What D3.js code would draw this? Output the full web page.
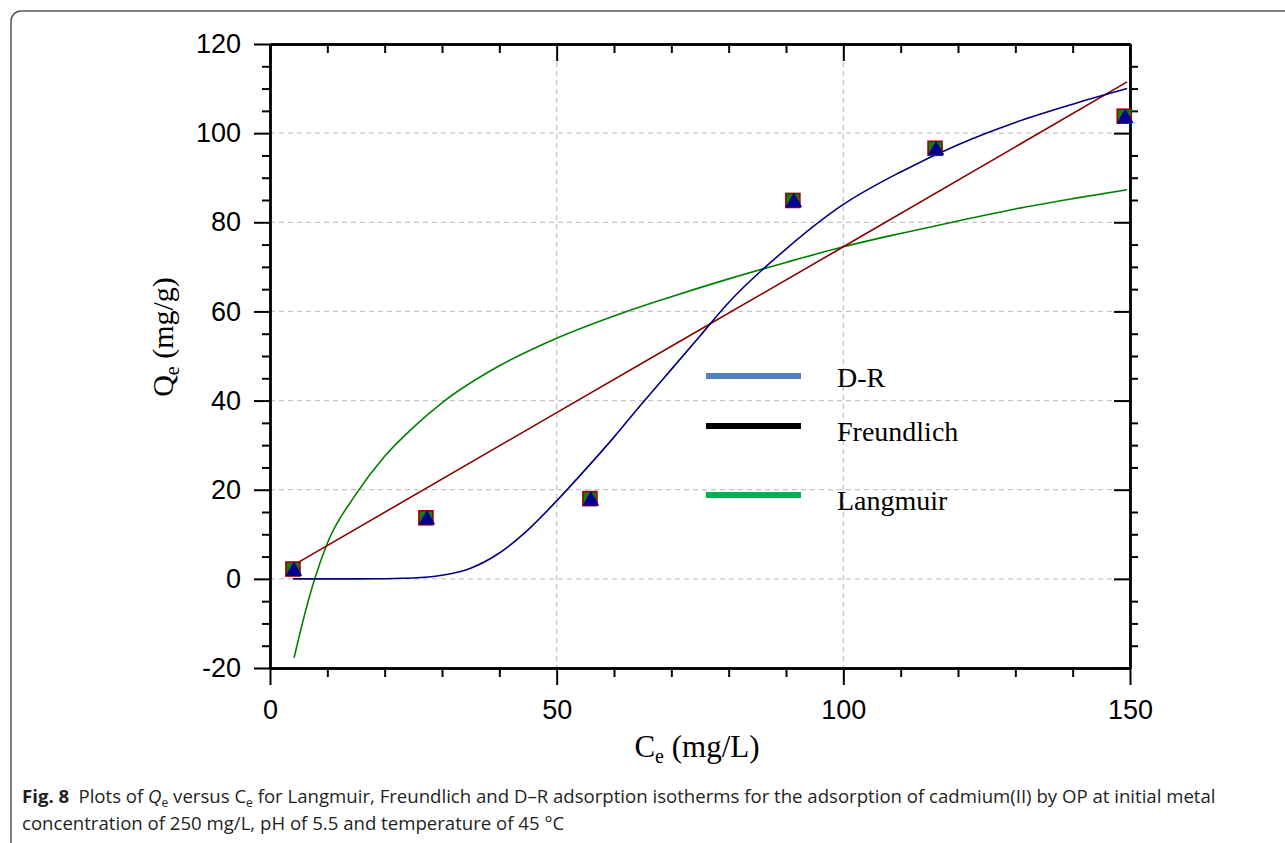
<!DOCTYPE html>
<html>
<head>
<meta charset="utf-8">
<script src="https://cdn.jsdelivr.net/npm/d3@7"></script>
<style>
  body { margin: 0; background: #fff; }
  svg { display: block; }
  .tick text { font-family: "Liberation Sans", Arial, sans-serif; font-size: 27px; fill: #000; }
</style>
</head>
<body>
<script>
// measured points (Ce, Qe)
var ceData = [4.0, 27.2, 55.8, 91.2, 116.0, 149.0];
var qeData = [2.2, 13.7, 18.0, 84.9, 96.6, 103.8];

// fitted curves
var drCe = [4, 15, 25, 30, 35, 40, 45, 50, 55, 60, 65, 70, 75, 80, 90, 100, 110, 120, 130, 140, 149.5];
var drQe = [0, 0, 0.2, 0.8, 2.4, 5.8, 11, 17.5, 24.5, 31.8, 39.5, 47, 54.5, 62, 74, 84, 91.3, 97.4, 102.4, 106.5, 110];

var frCe = [4, 50, 100, 149.5];
var frQe = [3.0, 37.3, 74.5, 111.5];

var lgCe = [4.2, 5.8, 7.8, 10, 15, 20, 25, 30, 40, 50, 60, 70, 80, 90, 100, 110, 120, 130, 140, 149.5];
var lgQe = [-17.7, -9.2, 0, 8, 19, 27.5, 34, 39.5, 47.8, 54, 59, 63.3, 67.3, 71, 74.5, 77.5, 80.3, 83, 85.3, 87.3];

var legendNames = ["D-R", "Freundlich", "Langmuir"];
var legendColors = ["#4f81bd", "#000000", "#00b050"];

var xMajor = [0, 50, 100, 150];
var xMinor = d3.range(10, 150, 10).filter(d => d % 50 !== 0);
var yMajor = [-20, 0, 20, 40, 60, 80, 100, 120];
var yMinor = d3.range(-15, 120, 5).filter(d => d % 20 !== 0);

var svgWidth = 1285;
var svgHeight = 843;

var plot = { left: 270, top: 44, right: 1130, bottom: 668 };

var svg = d3.select("body")
  .append("svg")
  .attr("width", svgWidth)
  .attr("height", svgHeight);

// figure frame
svg.append("rect")
  .attr("x", 11).attr("y", 11)
  .attr("width", 1320).attr("height", 842)
  .attr("rx", 10)
  .attr("fill", "none")
  .attr("stroke", "#555")
  .attr("stroke-width", 1.5);

var x = d3.scaleLinear().domain([0, 150]).range([plot.left, plot.right]);
var y = d3.scaleLinear().domain([-20, 120]).range([plot.bottom, plot.top]);

svg.append("clipPath").attr("id", "clip")
  .append("rect")
  .attr("x", plot.left).attr("y", plot.top)
  .attr("width", plot.right - plot.left)
  .attr("height", plot.bottom - plot.top);

// grid
var grid = svg.append("g")
  .attr("stroke", "#c4c4c4")
  .attr("stroke-width", 1.3)
  .attr("stroke-dasharray", "5,4");
grid.selectAll(".h")
  .data([0, 20, 40, 60, 80, 100])
  .enter().append("line")
  .attr("x1", plot.left).attr("x2", plot.right)
  .attr("y1", d => y(d)).attr("y2", d => y(d));
grid.selectAll(".v")
  .data([50, 100])
  .enter().append("line")
  .attr("y1", plot.top).attr("y2", plot.bottom)
  .attr("x1", d => x(d)).attr("x2", d => x(d));

// curves
var lineGen = d3.line()
  .x(d => x(d[0]))
  .y(d => y(d[1]))
  .curve(d3.curveMonotoneX);

var curves = svg.append("g").attr("clip-path", "url(#clip)").attr("fill", "none");
curves.append("path")
  .attr("d", lineGen(d3.zip(lgCe, lgQe)))
  .attr("stroke", "#008000").attr("stroke-width", 1.6);
curves.append("path")
  .attr("d", lineGen(d3.zip(frCe, frQe)))
  .attr("stroke", "#8b0000").attr("stroke-width", 1.6);
curves.append("path")
  .attr("d", lineGen(d3.zip(drCe, drQe)))
  .attr("stroke", "#000080").attr("stroke-width", 1.6);

// axes
function styleAxis(g) {
  g.select(".domain").attr("stroke", "#000").attr("stroke-width", 2.4);
  g.selectAll(".tick line").attr("stroke", "#000").attr("stroke-width", 2);
}

var fmt = d => String(d);

svg.append("g")
  .attr("transform", `translate(${plot.left},0)`)
  .call(d3.axisLeft(y).tickValues(yMinor).tickSize(8).tickSizeOuter(0).tickFormat(""))
  .call(styleAxis);
svg.append("g")
  .attr("transform", `translate(${plot.left},0)`)
  .call(d3.axisLeft(y).tickValues(yMajor).tickSize(16).tickSizeOuter(0).tickPadding(13).tickFormat(fmt))
  .call(styleAxis);

svg.append("g")
  .attr("transform", `translate(${plot.right},0)`)
  .call(d3.axisLeft(y).tickValues(yMinor).tickSize(-8).tickSizeOuter(0).tickFormat(""))
  .call(styleAxis);
svg.append("g")
  .attr("transform", `translate(${plot.right},0)`)
  .call(d3.axisRight(y).tickValues(yMajor).tickSize(-16).tickSizeOuter(0).tickFormat(""))
  .call(styleAxis);

svg.append("g")
  .attr("transform", `translate(0,${plot.bottom})`)
  .call(d3.axisBottom(x).tickValues(xMinor).tickSize(9).tickSizeOuter(0).tickFormat(""))
  .call(styleAxis);
svg.append("g")
  .attr("transform", `translate(0,${plot.bottom})`)
  .call(d3.axisBottom(x).tickValues(xMajor).tickSize(17).tickSizeOuter(0).tickPadding(15).tickFormat(fmt))
  .call(styleAxis);

svg.append("g")
  .attr("transform", `translate(0,${plot.top})`)
  .call(d3.axisTop(x).tickValues(xMinor).tickSize(-9).tickSizeOuter(0).tickFormat(""))
  .call(styleAxis);
svg.append("g")
  .attr("transform", `translate(0,${plot.top})`)
  .call(d3.axisTop(x).tickValues(xMajor).tickSize(-17).tickSizeOuter(0).tickFormat(""))
  .call(styleAxis);

// data markers
var pts = d3.zip(ceData, qeData);
var markers = svg.append("g");
markers.selectAll("rect")
  .data(pts)
  .enter().append("rect")
  .attr("x", d => x(d[0]) - 7)
  .attr("y", d => y(d[1]) - 7)
  .attr("width", 14).attr("height", 14)
  .attr("fill", "#108010")
  .attr("stroke", "#a00000")
  .attr("stroke-width", 1.6);
markers.selectAll("path")
  .data(pts)
  .enter().append("path")
  .attr("transform", d => `translate(${x(d[0]) + 1},${y(d[1]) + 2})`)
  .attr("d", d3.symbol(d3.symbolTriangle, 120))
  .attr("fill", "#000090");

// legend
var legend = svg.append("g");
var legendY = [376, 426, 495];
var legendTextY = [387, 441, 510];
legendNames.forEach(function(name, i) {
  legend.append("line")
    .attr("x1", 706).attr("x2", 801)
    .attr("y1", legendY[i]).attr("y2", legendY[i])
    .attr("stroke", legendColors[i])
    .attr("stroke-width", 6);
  legend.append("text")
    .attr("x", 837).attr("y", legendTextY[i])
    .attr("font-family", "Liberation Serif, Times New Roman, serif")
    .attr("font-size", 28)
    .text(name);
});

// axis titles
var xTitle = svg.append("text")
  .attr("x", 697).attr("y", 757)
  .attr("text-anchor", "middle")
  .attr("font-family", "Liberation Serif, Times New Roman, serif")
  .attr("font-size", 31);
xTitle.append("tspan").text("C");
xTitle.append("tspan").attr("font-size", 20).attr("dy", 6).text("e");
xTitle.append("tspan").attr("dy", -6).text(" (mg/L)");

var yTitle = svg.append("text")
  .attr("transform", "translate(173,337) rotate(-90)")
  .attr("text-anchor", "middle")
  .attr("font-family", "Liberation Serif, Times New Roman, serif")
  .attr("font-size", 30);
yTitle.append("tspan").text("Q");
yTitle.append("tspan").attr("font-size", 20).attr("dy", 6).text("e");
yTitle.append("tspan").attr("dy", -6).text(" (mg/g)");

// caption
var cap = svg.append("g")
  .attr("font-family", "Open Sans, Noto Sans, sans-serif")
  .attr("font-size", 18.6)
  .attr("fill", "#231f20");
var l1 = cap.append("text").attr("x", 22).attr("y", 803);
l1.append("tspan").attr("font-weight", "bold").text("Fig. 8");
l1.append("tspan").text("\u2002Plots of ");
l1.append("tspan").attr("font-style", "italic").text("Q");
l1.append("tspan").attr("font-size", 12).attr("dy", 4).text("e");
l1.append("tspan").attr("dy", -4).text(" versus C");
l1.append("tspan").attr("font-size", 12).attr("dy", 4).text("e");
l1.append("tspan").attr("dy", -4).text(" for Langmuir, Freundlich and D\u2013R adsorption isotherms for the adsorption of cadmium(II) by OP at initial metal");
cap.append("text").attr("x", 22).attr("y", 830)
  .text("concentration of 250 mg/L, pH of 5.5 and temperature of 45 \u00b0C");
</script>
</body>
</html>
